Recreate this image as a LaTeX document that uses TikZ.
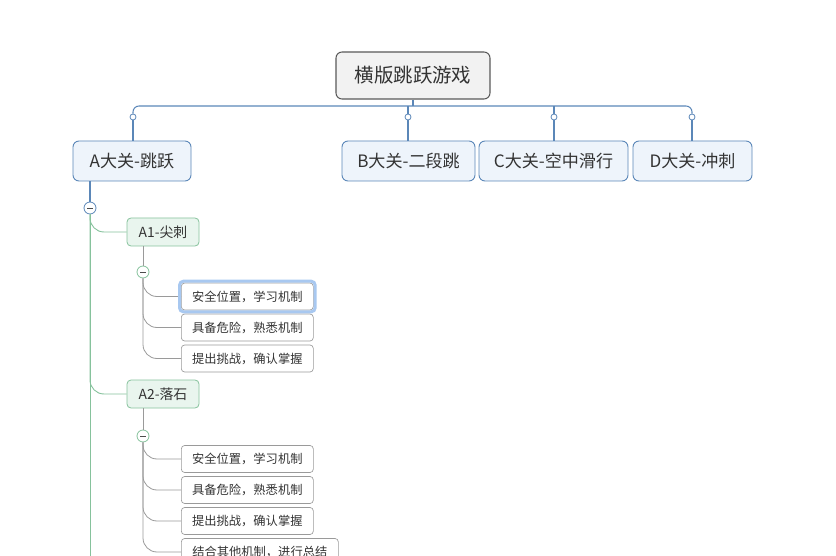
\documentclass[tikz,border=0pt]{standalone}
\usepackage{fontspec}
\setmainfont{Noto Sans CJK SC}
\usepackage{xcolor}
\definecolor{mmBlue}{HTML}{5B87B8}
\definecolor{mmBlueFill}{HTML}{EEF4FB}
\definecolor{mmGreen}{HTML}{86C29C}
\definecolor{mmGreenFill}{HTML}{E9F5EE}
\definecolor{mmGray}{HTML}{9A9A9A}
\definecolor{mmText}{HTML}{333333}
\definecolor{mmSel}{HTML}{A8C8F0}
\usepackage{tikz}
\usetikzlibrary{calc}
\def\pu{0.75pt}
\tikzset{
    rootbox/.style={draw=black!65, fill=black!5, rounded corners=4.5pt, line width=0.8pt, text=mmText,
      font=\fontsize{14.6}{16}\selectfont, minimum width=154*\pu, minimum height=47*\pu, inner sep=0pt},
    levelbox/.style={draw=mmBlue, fill=mmBlueFill, rounded corners=4.5pt, line width=0.7pt, text=mmText,
      font=\fontsize{12.8}{14}\selectfont, minimum height=40*\pu, inner sep=0pt},
    subbox/.style={draw=mmGreen, fill=mmGreenFill, rounded corners=3pt, line width=0.6pt, text=mmText,
      font=\fontsize{10.4}{12}\selectfont, minimum width=72*\pu, minimum height=28*\pu, inner sep=0pt},
    leafbox/.style={draw=mmGray, fill=white, rounded corners=2.5pt, line width=0.5pt, text=mmText,
      font=\fontsize{9.2}{11}\selectfont, minimum width=132*\pu, minimum height=27*\pu, inner sep=0pt, anchor=west},
    knob/.style={circle, draw=mmBlue, fill=white, line width=0.6pt, minimum size=6*\pu, inner sep=0pt},
    fold/.style={circle, draw=#1, fill=white, line width=0.6pt, minimum size=12*\pu, inner sep=0pt,
      path picture={\draw[black!70, line width=0.6pt]
        ($(path picture bounding box.center)+(-1.9pt,0)$) -- ($(path picture bounding box.center)+(1.9pt,0)$);}},
    blueline/.style={draw=mmBlue, line width=0.8pt},
    greenline/.style={draw=mmGreen, line width=0.7pt},
    grayline/.style={draw=mmGray, line width=0.6pt}
}

\begin{document}
\begin{tikzpicture}[x=\pu, y=-\pu]
  % Bounding box (pixel grid of the page)
  \path[use as bounding box] (0,0) rectangle (836,556);

  % Root and the four stages
  \node[rootbox] (root) at (413,75.5) {横版跳跃游戏};
  \node[levelbox, minimum width=118*\pu] (A) at (132,161) {A大关-跳跃};
  \node[levelbox, minimum width=133*\pu] (B) at (408.5,161) {B大关-二段跳};
  \node[levelbox, minimum width=149*\pu] (C) at (553.5,161) {C大关-空中滑行};
  \node[levelbox, minimum width=119*\pu] (D) at (692.5,161) {D大关-冲刺};

  % Small knobs above each stage
  \node[knob] (kA) at (133,117) {};
  \node[knob] (kB) at (408,117) {};
  \node[knob] (kC) at (554,117) {};
  \node[knob] (kD) at (692,117) {};

  % Bus from root to the stages
  \coordinate (bus) at (413,106);
  \draw[blueline] (root.south) -- (bus);
  \draw[blueline, rounded corners=4.5pt] (kA.north) |- (bus) -| (kD.north);
  \draw[blueline] (kB.north) -- (kB.north |- bus);
  \draw[blueline] (kC.north) -- (kC.north |- bus);
  \foreach \k/\s in {kA/A,kB/B,kC/C,kD/D}{
    \draw[blueline] (\k.south) -- (\k.south |- \s.north);
  }

  % Sub stages of A
  \node[fold=mmBlue] (fA) at (90,208) {};
  \node[subbox] (A1) at (163,232) {A1-尖刺};
  \node[subbox] (A2) at (163,394) {A2-落石};
  \coordinate (aEnd) at (90,556);
  \draw[blueline] (A.south -| fA.north) -- (fA.north);
  \draw[greenline] (fA.south) -- (aEnd);
  \draw[greenline, rounded corners=14*\pu] (fA.south) |- (A1.west);
  \draw[greenline, rounded corners=14*\pu] (fA.south) |- (A2.west);

  % Steps of A1
  \node[fold=mmGreen] (f1) at (143,272) {};
  \draw[grayline] (f1.north) -- (f1.north |- A1.south);
  \node[leafbox] (a11) at (181,296.5) {安全位置，学习机制};
  \node[leafbox] (a12) at (181,327.5) {具备危险，熟悉机制};
  \node[leafbox] (a13) at (181,358.5) {提出挑战，确认掌握};
  \foreach \n in {a11,a12,a13}{
    \draw[grayline, rounded corners=14*\pu] (f1.south) |- (\n.west);
  }
  % selection ring
  \draw[mmSel, line width=2.25pt, rounded corners=3pt]
    ($(a11.south west)+(-1.5,1.5)$) rectangle ($(a11.north east)+(1.5,-1.5)$);

  % Steps of A2
  \node[fold=mmGreen] (f2) at (143,436) {};
  \draw[grayline] (f2.north) -- (f2.north |- A2.south);
  \node[leafbox] (a21) at (181,459) {安全位置，学习机制};
  \node[leafbox] (a22) at (181,490) {具备危险，熟悉机制};
  \node[leafbox] (a23) at (181,521) {提出挑战，确认掌握};
  \node[leafbox, minimum width=157*\pu] (a24) at (181,552) {结合其他机制，进行总结};
  \foreach \n in {a21,a22,a23,a24}{
    \draw[grayline, rounded corners=14*\pu] (f2.south) |- (\n.west);
  }
\end{tikzpicture}
\end{document}
